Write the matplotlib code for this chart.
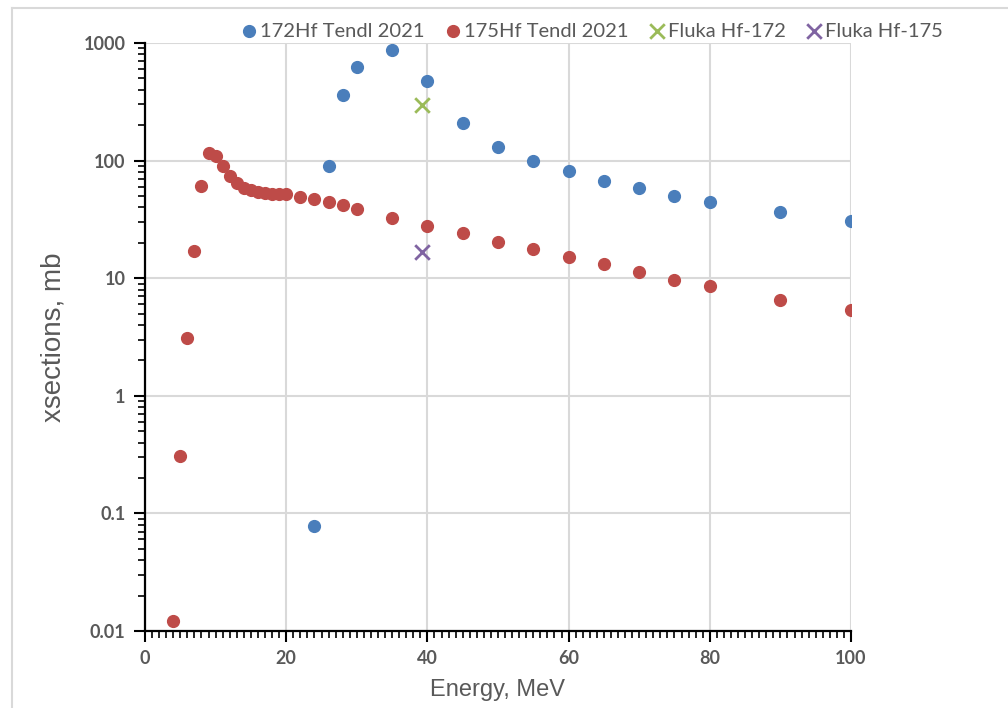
import matplotlib
matplotlib.use("Agg")
import matplotlib.pyplot as plt
from matplotlib.ticker import MultipleLocator, LogLocator, FixedLocator, NullFormatter
from matplotlib.lines import Line2D

# 172Hf Tendl 2021
e172 = [24, 26, 28, 30, 35, 40, 45, 50, 55, 60, 65, 70, 75, 80, 90, 100]
xs172 = [0.078, 90, 361, 625, 871, 475, 209, 131, 99, 82, 67, 58, 50, 44.5, 36.6, 30.6]

# 175Hf Tendl 2021
e175 = [4, 5, 6, 7, 8, 9, 10, 11, 12, 13, 14, 15, 16, 17, 18, 19, 20,
        22, 24, 26, 28, 30, 35, 40, 45, 50, 55, 60, 65, 70, 75, 80, 90, 100]
xs175 = [0.0122, 0.31, 3.1, 17, 61, 116, 109, 90, 74, 64, 59, 56, 54, 53.5, 52.5, 52, 51.5,
         49, 47, 44.5, 42, 38.7, 32.5, 27.8, 24.2, 20.3, 17.7, 15.1, 13.2, 11.3, 9.7, 8.6, 6.5, 5.4]

# Fluka points
fluka172_e = [39.2]
fluka172_xs = [297]
fluka175_e = [39.2]
fluka175_xs = [16.7]

yticks = [0.01, 0.1, 1, 10, 100, 1000]
ytick_labels = ["0.01", "0.1", "1", "10", "100", "1000"]

gray = "#595959"
grid_c = "#d9d9d9"

fig = plt.figure(figsize=(10.08, 7.08), dpi=100)
ax = fig.add_axes([145 / 1008, 1 - 631 / 708, 706 / 1008, 588 / 708])

ax.scatter(e172, xs172, s=72, color="#4a7ebb", label="172Hf Tendl 2021", zorder=3)
ax.scatter(e175, xs175, s=72, color="#be4b48", label="175Hf Tendl 2021", zorder=3)
ax.scatter(fluka172_e, fluka172_xs, s=110, marker="x", color="#9bbb59", linewidths=2,
           label="Fluka Hf-172", zorder=3)
ax.scatter(fluka175_e, fluka175_xs, s=110, marker="x", color="#8064a2", linewidths=2,
           label="Fluka Hf-175", zorder=3)

ax.set_yscale("log")
ax.set_xlim(0, 100)
ax.set_ylim(0.01, 1000)

ax.xaxis.set_major_locator(MultipleLocator(20))
ax.xaxis.set_minor_locator(MultipleLocator(1))
ax.yaxis.set_major_locator(FixedLocator(yticks))
ax.set_yticklabels(ytick_labels)
ax.yaxis.set_minor_locator(LogLocator(base=10, subs=range(2, 10)))
ax.yaxis.set_minor_formatter(NullFormatter())

ax.grid(True, which="major", color=grid_c, linewidth=1.5, zorder=0)
ax.set_axisbelow(True)
for s in ["top", "right"]:
    ax.spines[s].set_visible(False)
for s in ["left", "bottom"]:
    ax.spines[s].set_linewidth(1.6)
    ax.spines[s].set_color("black")

ax.tick_params(which="major", length=8, width=1.5, color="black", labelcolor=gray, pad=6)
ax.tick_params(which="minor", length=5, width=1.2, color="black")
for lab in ax.get_xticklabels() + ax.get_yticklabels():
    lab.set_fontfamily("Lato")
    lab.set_fontweight("bold")
    lab.set_fontsize(13)

ax.set_xlabel("Energy, MeV", fontsize=17, color=gray, family="Liberation Sans", labelpad=8)
ax.set_ylabel("xsections, mb", fontsize=20, color=gray, family="Liberation Sans", labelpad=12)

fig.legend(loc="center", bbox_to_anchor=(591 / 1008, 1 - 31 / 708), ncol=4, frameon=False,
           handletextpad=0.05, columnspacing=0.9, handlelength=1.0,
           prop={"family": "Lato", "size": 14.5}, labelcolor=gray)

# chart area border
fig.add_artist(Line2D([12 / 1008, 1.0], [1 - 8 / 708, 1 - 8 / 708], color=grid_c, linewidth=1.5))
fig.add_artist(Line2D([12 / 1008, 12 / 1008], [0.0, 1 - 8 / 708], color=grid_c, linewidth=1.5))

fig.savefig("out.png", dpi=100)
